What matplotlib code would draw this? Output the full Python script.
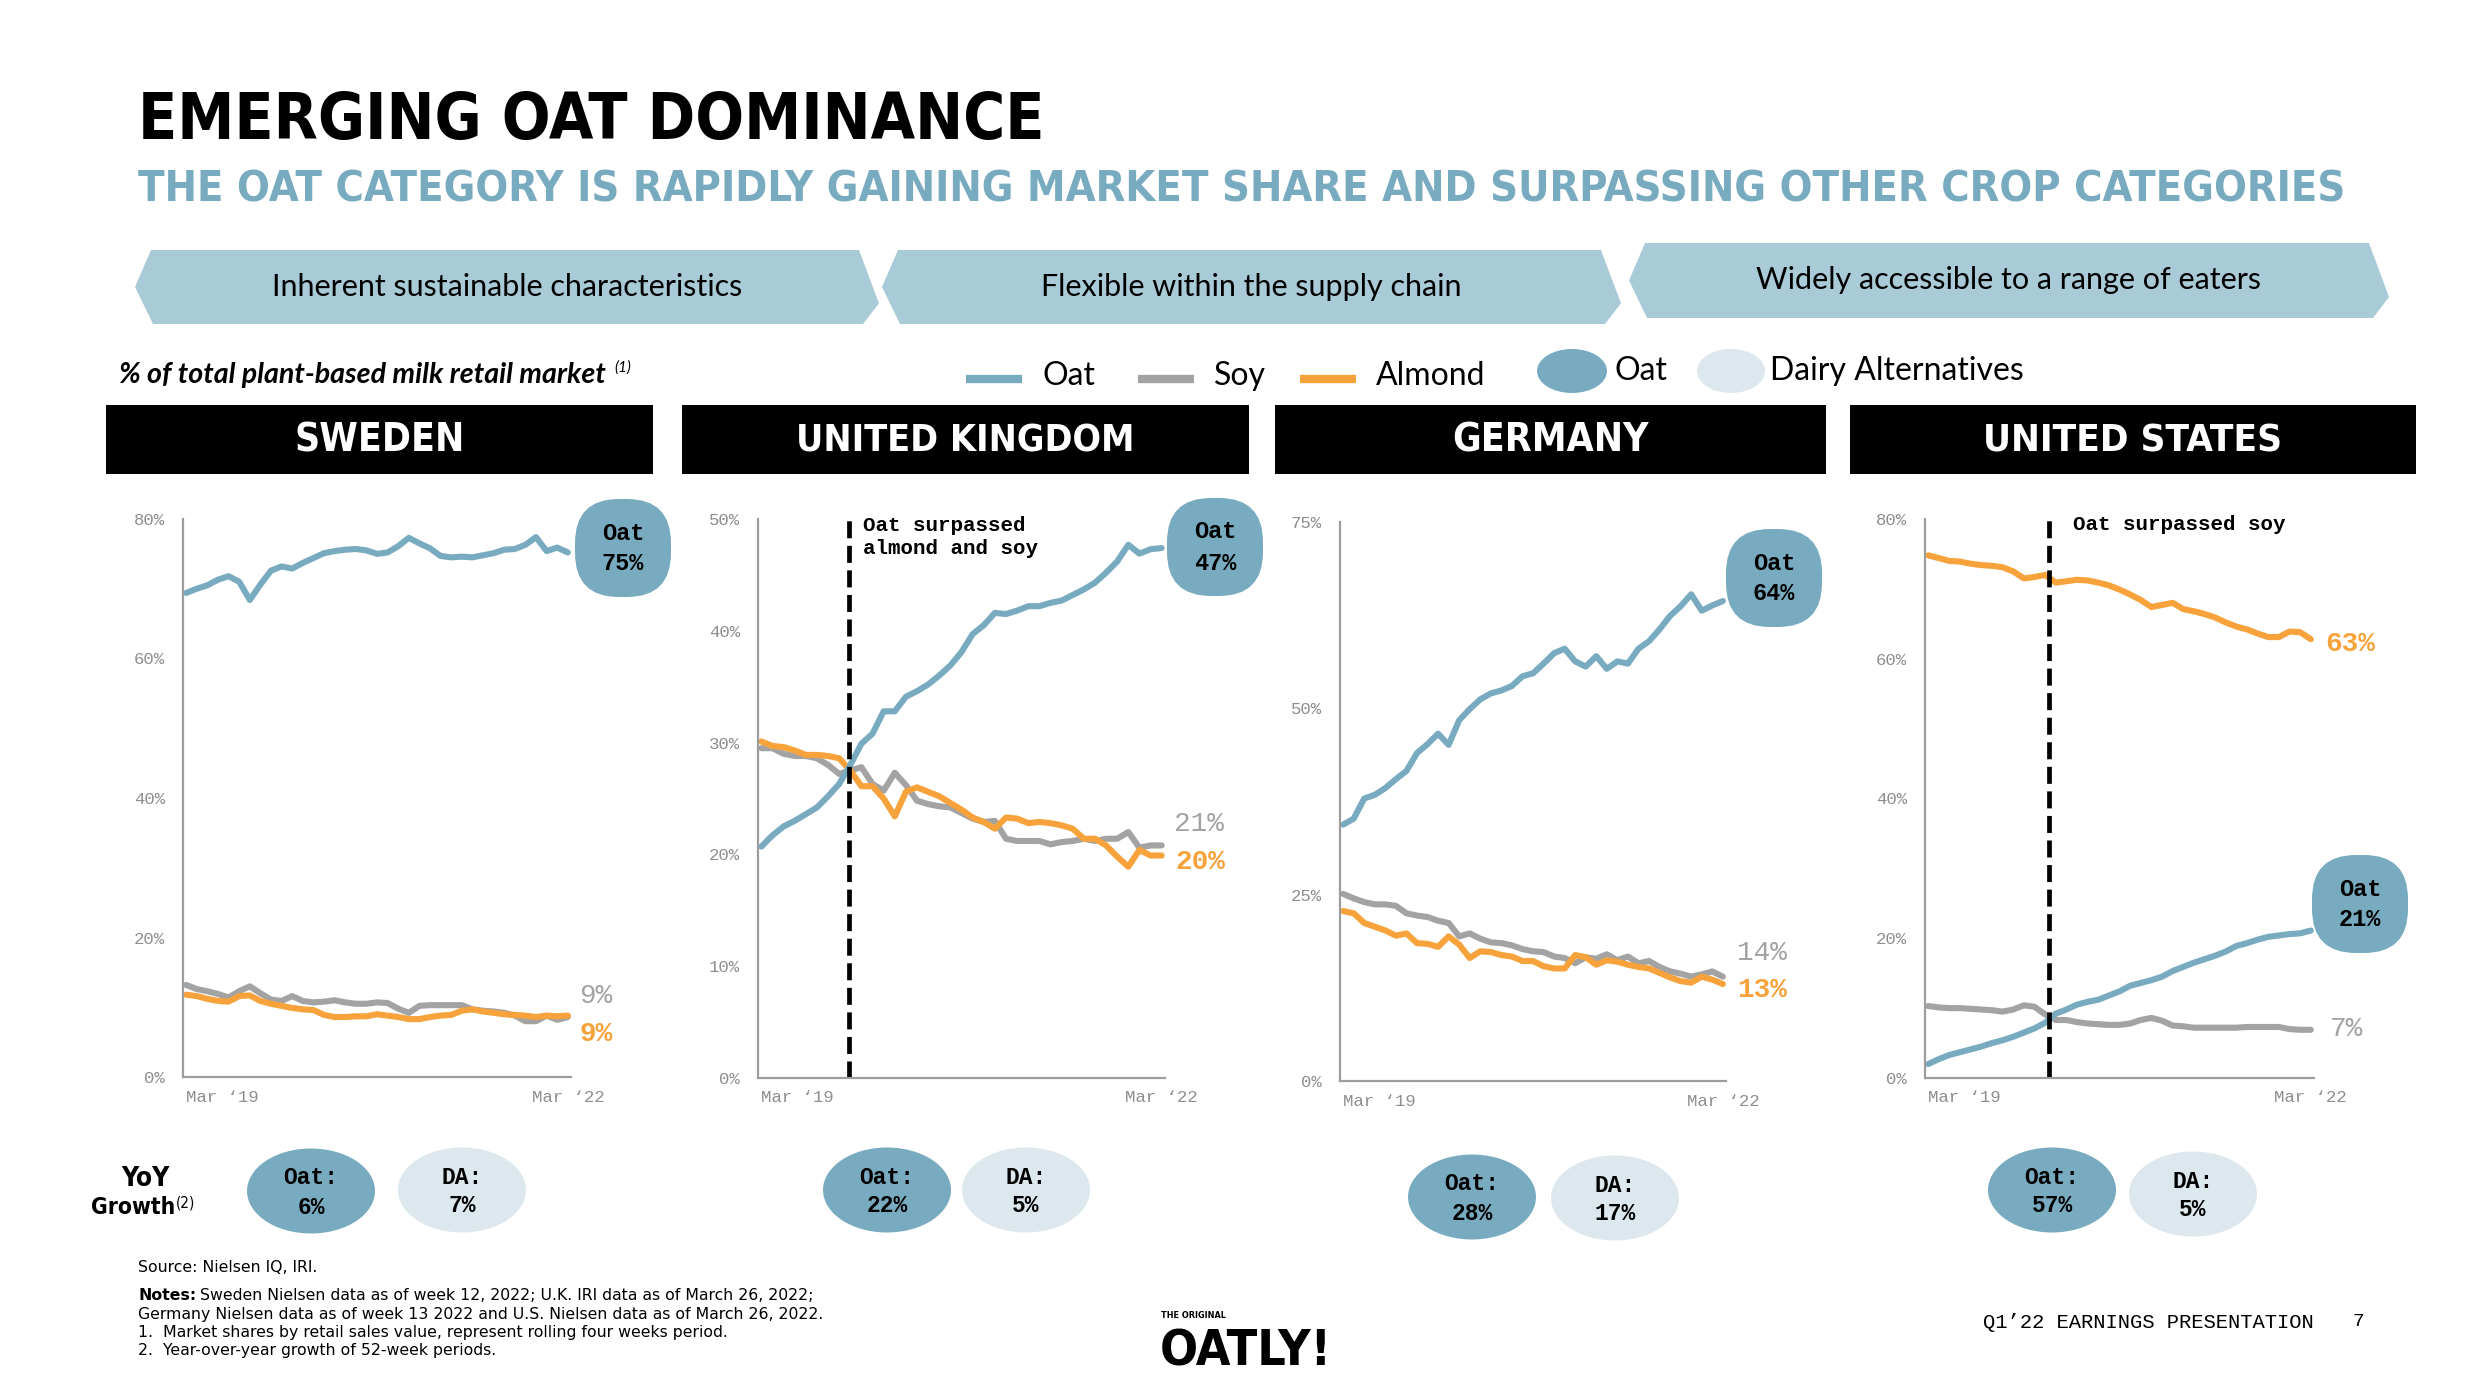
import matplotlib
matplotlib.use('Agg')
import matplotlib.pyplot as plt
from matplotlib import patches, font_manager
import numpy as np

W, H = 2492, 1400

# ---- data: share of plant-based milk retail market (%), four-week periods Mar '19 .. Mar '22
se_oat = [69.4, 70.0, 70.5, 71.3, 71.8, 71.0, 68.4, 70.6, 72.6, 73.2, 72.9, 73.7, 74.4,
          75.1, 75.4, 75.6, 75.7, 75.5, 75.0, 75.2, 76.1, 77.3, 76.5, 75.8, 74.7, 74.5,
          74.6, 74.5, 74.8, 75.1, 75.6, 75.7, 76.3, 77.4, 75.4, 75.9, 75.2]
se_soy = [13.2, 12.6, 12.3, 11.9, 11.4, 12.3, 13.0, 12.0, 11.1, 10.9, 11.6, 10.9, 10.7,
          10.8, 11.0, 10.7, 10.5, 10.5, 10.7, 10.6, 9.8, 9.2, 10.2, 10.3, 10.3, 10.3,
          10.3, 9.7, 9.5, 9.4, 9.2, 8.8, 8.0, 8.0, 8.8, 8.2, 8.6]
se_almond = [11.8, 11.6, 11.2, 10.9, 10.8, 11.6, 11.7, 10.9, 10.5, 10.2, 9.9, 9.7, 9.6,
             8.9, 8.6, 8.6, 8.7, 8.7, 9.0, 8.8, 8.6, 8.3, 8.3, 8.6, 8.8, 8.9,
             9.5, 9.7, 9.4, 9.2, 9.0, 8.9, 8.8, 8.6, 8.8, 8.7, 8.8]

uk_oat = [20.7, 21.7, 22.5, 23.0, 23.6, 24.2, 25.2, 26.3, 28.0, 29.9, 30.8, 32.8, 32.8,
          34.1, 34.6, 35.2, 36.0, 36.9, 38.1, 39.7, 40.5, 41.6, 41.5, 41.8, 42.2, 42.2,
          42.5, 42.7, 43.2, 43.7, 44.3, 45.2, 46.2, 47.7, 46.9, 47.3, 47.4]
uk_soy = [29.5, 29.5, 29.0, 28.8, 28.8, 28.6, 28.0, 27.2, 27.5, 27.8, 26.3, 25.7, 27.3,
          26.2, 24.8, 24.5, 24.3, 24.2, 23.7, 23.2, 22.9, 23.0, 21.4, 21.2, 21.2, 21.2,
          20.9, 21.1, 21.2, 21.4, 21.2, 21.4, 21.4, 22.0, 20.6, 20.8, 20.8]
uk_almond = [30.1, 29.7, 29.6, 29.3, 28.9, 28.9, 28.8, 28.6, 27.5, 26.1, 26.1, 25.0, 23.4,
             25.6, 26.0, 25.6, 25.2, 24.6, 24.0, 23.3, 22.9, 22.3, 23.3, 23.2, 22.8, 22.9,
             22.8, 22.6, 22.3, 21.4, 21.4, 20.8, 19.8, 18.9, 20.4, 19.9, 19.9]

de_oat = [34.4, 35.2, 37.9, 38.4, 39.3, 40.5, 41.6, 44.0, 45.2, 46.6, 45.1, 48.4, 49.9,
          51.2, 52.0, 52.4, 53.0, 54.3, 54.7, 56.0, 57.4, 58.0, 56.3, 55.6, 57.0, 55.3,
          56.3, 56.0, 58.0, 59.0, 60.6, 62.4, 63.7, 65.3, 63.1, 63.8, 64.4]
de_soy = [25.1, 24.5, 24.0, 23.7, 23.7, 23.5, 22.5, 22.2, 22.0, 21.5, 21.2, 19.4, 19.8,
          19.1, 18.6, 18.5, 18.2, 17.7, 17.4, 17.3, 16.7, 16.5, 15.8, 16.6, 16.4, 17.0,
          16.2, 16.7, 15.8, 16.1, 15.3, 14.7, 14.4, 14.0, 14.3, 14.7, 14.0]
de_almond = [22.8, 22.5, 21.2, 20.7, 20.2, 19.5, 19.8, 18.5, 18.4, 18.0, 19.4, 18.3, 16.5,
             17.4, 17.3, 16.9, 16.7, 16.1, 16.1, 15.4, 15.1, 15.1, 16.9, 16.6, 15.6, 16.2,
             16.0, 15.6, 15.3, 15.1, 14.5, 13.9, 13.4, 13.2, 14.0, 13.6, 13.0]

us_oat = [2.0, 2.7, 3.3, 3.7, 4.1, 4.5, 5.0, 5.4, 5.9, 6.5, 7.1, 7.9, 9.2,
          9.8, 10.5, 10.9, 11.2, 11.8, 12.4, 13.2, 13.6, 14.0, 14.5, 15.3, 15.9, 16.5,
          17.0, 17.5, 18.1, 18.9, 19.3, 19.8, 20.2, 20.4, 20.6, 20.7, 21.1]
us_soy = [10.3, 10.1, 10.0, 10.0, 9.9, 9.8, 9.7, 9.5, 9.8, 10.4, 10.2, 9.1, 8.3,
          8.3, 8.0, 7.8, 7.7, 7.6, 7.6, 7.8, 8.3, 8.6, 8.2, 7.5, 7.4, 7.2,
          7.2, 7.2, 7.2, 7.2, 7.3, 7.3, 7.3, 7.3, 7.0, 6.9, 6.9]
us_almond = [74.8, 74.4, 74.0, 73.9, 73.6, 73.4, 73.3, 73.1, 72.5, 71.5, 71.7, 72.0, 70.9,
             71.1, 71.3, 71.2, 70.9, 70.5, 69.9, 69.2, 68.4, 67.4, 67.7, 68.0, 67.1, 66.8,
             66.4, 65.9, 65.2, 64.6, 64.2, 63.6, 63.1, 63.1, 63.9, 63.8, 62.8]

countries = ['SWEDEN', 'UNITED KINGDOM', 'GERMANY', 'UNITED STATES']
oat = [se_oat, uk_oat, de_oat, us_oat]
soy = [se_soy, uk_soy, de_soy, us_soy]
almond = [se_almond, uk_almond, de_almond, us_almond]
y_ticks = [[0, 20, 40, 60, 80], [0, 10, 20, 30, 40, 50], [0, 25, 50, 75], [0, 20, 40, 60, 80]]
oat_end = ['75%', '47%', '64%', '21%']
soy_end = ['9%', '21%', '14%', '7%']
almond_end = ['9%', '20%', '13%', '63%']
yoy_oat = ['6%', '22%', '28%', '57%']
yoy_da = ['7%', '5%', '17%', '5%']
crossover = [None, 7.9, None, 11.4]
crossover_text = [None, 'Oat surpassed\nalmond and soy', None, 'Oat surpassed soy']
banners = ['Inherent sustainable characteristics', 'Flexible within the supply chain',
           'Widely accessible to a range of eaters']

# ---- styling
OAT = '#78abc0'
SOY = '#a3a3a3'
ALMOND = '#f7a23a'
DA = '#dce8ee'
BANNER = '#a9cbd8'
TICK = '#8e8e8e'

# pick the narrowest bold-capable face that is installed for the poster-style headings
entries = font_manager.fontManager.ttflist
narrow = dict(family='DejaVu Sans', stretch='normal')
for want in ['extra-condensed', 'condensed', 'semi-condensed']:
    hits = [f for f in entries if f.stretch == want and f.name in ('Noto Sans', 'DejaVu Sans', 'Roboto', 'Open Sans')]
    if hits:
        narrow = dict(family=hits[0].name, stretch=want)
        break
MONO = ['Liberation Mono', 'DejaVu Sans Mono']
SANS = ['Lato', 'DejaVu Sans']

fig = plt.figure(figsize=(W / 100, H / 100), dpi=100)
renderer = fig.canvas.get_renderer()
bg = fig.add_axes([0, 0, 1, 1])
bg.set_xlim(0, W)
bg.set_ylim(H, 0)
bg.axis('off')


def fit(t, width, max_size=None):
    # scale a text so that it spans the given width in pixels
    w = t.get_window_extent(renderer).width
    size = t.get_fontsize() * width / w
    if max_size is not None:
        size = min(size, max_size)
    t.set_fontsize(size)
    return t


def right_edge(t):
    return t.get_window_extent(renderer).x1


# title block
fit(bg.text(138, 121, 'EMERGING OAT DOMINANCE', weight='heavy', fontsize=60,
            va='center', ha='left', color='black', **narrow), 908, 90)
fit(bg.text(138, 190, 'THE OAT CATEGORY IS RAPIDLY GAINING MARKET SHARE AND SURPASSING OTHER CROP CATEGORIES',
            weight='heavy', fontsize=40, va='center', ha='left', color=OAT, **narrow), 2210, 60)

# banner arrows
banner_px = [(135, 879, 250, 324), (882, 1621, 250, 324), (1629, 2389, 243, 318)]
for (x0, x1, top, bot), label in zip(banner_px, banners):
    mid = (top + bot) / 2
    pts = [(x0 + 16, top), (x1 - 20, top), (x1, top + 0.72 * (bot - top)), (x1 - 16, bot),
           (x0 + 18, bot), (x0, mid)]
    bg.add_patch(patches.Polygon(pts, closed=True, color=BANNER, lw=0))
    bg.text((x0 + x1) / 2, mid, label, family=SANS, fontsize=22, ha='center', va='center')

# legend row
lead = fit(bg.text(119, 375, '% of total plant-based milk retail market', family=SANS, style='italic',
                   weight='bold', fontsize=16, ha='left', va='center'), 488, 22)
bg.text(lead.get_window_extent(renderer).x1 + 8, 368, '(1)', family=SANS, style='italic',
        fontsize=11, ha='left', va='center')
for x, c, lab in [(966, OAT, 'Oat'), (1138, SOY, 'Soy'), (1300, ALMOND, 'Almond')]:
    bg.plot([x, x + 56], [379, 379], color=c, lw=6, solid_capstyle='butt')
    bg.text(x + 76, 376, lab, family=SANS, fontsize=23, ha='left', va='center')
bg.add_patch(patches.Ellipse((1572, 371), 70, 44, color=OAT, lw=0))
bg.text(1614, 371, 'Oat', family=SANS, fontsize=23, ha='left', va='center')
bg.add_patch(patches.Ellipse((1731, 371), 68, 44, color=DA, lw=0))
bg.text(1770, 371, 'Dairy Alternatives', family=SANS, fontsize=23, ha='left', va='center')

# country headers
header_px = [(106, 653), (682, 1249), (1275, 1826), (1850, 2416)]
header_w = [170, 338, 196, 300]
for (x0, x1), name, hw in zip(header_px, countries, header_w):
    bg.add_patch(patches.Rectangle((x0, 405), x1 - x0, 69, color='black', lw=0))
    fit(bg.text((x0 + x1) / 2, 441, name, weight='heavy', fontsize=34,
                color='white', ha='center', va='center', **narrow), hw, 40)

# line charts
axes_px = [(183, 519, 571, 1077), (758, 519, 1165, 1078), (1340, 522, 1726, 1081), (1925, 519, 2314, 1078)]
bubble_px = [(623, 548), (1215, 547), (1774, 578), (2360, 904)]
soy_lab_px = [(596, 996), (1199, 824), (1762, 953), (2346, 1029)]
alm_lab_px = [(596, 1034), (1200, 862), (1762, 990), (2350, 644)]
note_px = [None, (863, 537), None, (2073, 524)]

for i in range(4):
    x0, y0, x1, y1 = axes_px[i]
    ax = fig.add_axes([x0 / W, 1 - y1 / H, (x1 - x0) / W, (y1 - y0) / H])
    ax.patch.set_alpha(0)
    periods = np.arange(len(oat[i]))
    for series, c in [(soy[i], SOY), (almond[i], ALMOND), (oat[i], OAT)]:
        ax.plot(periods, series, color=c, lw=4.4, solid_joinstyle='round', solid_capstyle='round',
                clip_on=False)
    ax.set_xlim(-0.3, len(periods) - 1 + 0.3)
    ax.set_ylim(0, y_ticks[i][-1])
    for s in ['top', 'right']:
        ax.spines[s].set_visible(False)
    for s in ['left', 'bottom']:
        ax.spines[s].set_color('#9c9c9c')
        ax.spines[s].set_linewidth(1.6)
    ax.set_yticks(y_ticks[i], [f'{t}%' for t in y_ticks[i]])
    ax.set_xticks([0, len(periods) - 1], ['Mar \u201819', 'Mar \u201822'])
    ax.tick_params(length=0, labelcolor=TICK, labelsize=12.5)
    ax.tick_params(axis='y', pad=13)
    ax.tick_params(axis='x', pad=9)
    for lab in ax.get_xticklabels() + ax.get_yticklabels():
        lab.set_family(MONO)
    ax.get_xticklabels()[0].set_ha('left')
    if crossover[i] is not None:
        ax.axvline(crossover[i], color='black', lw=3.4, dashes=(3.6, 1.6))
        nx, ny = note_px[i]
        bg.text(nx, ny, crossover_text[i], family=MONO, weight='bold', fontsize=15,
                ha='left', va='center', linespacing=1.25)

    # oat bubble
    cx, cy = bubble_px[i]
    bg.add_patch(patches.FancyBboxPatch((cx - 48, cy - 49), 96, 98,
                                        boxstyle='round,pad=0,rounding_size=44',
                                        color=OAT, lw=0))
    bg.text(cx, cy - 15, 'Oat', family=MONO, weight='bold', fontsize=17, ha='center', va='center')
    bg.text(cx, cy + 16, oat_end[i], family=MONO, weight='bold', fontsize=17, ha='center', va='center')
    sx, sy = soy_lab_px[i]
    bg.text(sx, sy, soy_end[i], family=MONO, fontsize=20, color=SOY, ha='center', va='center')
    axx, axy = alm_lab_px[i]
    bg.text(axx, axy, almond_end[i], family=MONO, weight='bold', fontsize=20, color=ALMOND,
            ha='center', va='center')

# YoY growth bubbles
bg.text(145, 1179, 'YoY', weight='bold', fontsize=19, ha='center', va='center', **narrow)
grow = fit(bg.text(91, 1208, 'Growth', weight='bold', fontsize=19, ha='left', va='center', **narrow), 84, 22)
bg.text(right_edge(grow) + 1, 1203, '(2)', fontsize=11, ha='left', va='center', **narrow)
oat_circ = [(311, 1191), (887, 1190), (1472, 1197), (2052, 1190)]
da_circ = [(462, 1190), (1026, 1190), (1615, 1198), (2193, 1194)]
for i in range(4):
    for (cx, cy), c, head, val in [(oat_circ[i], OAT, 'Oat:', yoy_oat[i]), (da_circ[i], DA, 'DA:', yoy_da[i])]:
        bg.add_patch(patches.Ellipse((cx, cy), 128, 85, color=c, lw=0))
        bg.text(cx, cy - 13, head, family=MONO, weight='bold', fontsize=16.5, ha='center', va='center')
        bg.text(cx, cy + 16, val, family=MONO, weight='bold', fontsize=16.5, ha='center', va='center')

# source & notes
NOTE = dict(family=['DejaVu Sans'], fontsize=11, ha='left', va='center')
ref = fit(bg.text(138, 1314, 'Germany Nielsen data as of week 13 2022 and U.S. Nielsen data as of March 26, 2022.',
                  **NOTE), 688, 12)
NOTE['fontsize'] = ref.get_fontsize()
bg.text(138, 1268, 'Source: Nielsen IQ, IRI.', **NOTE)
notes = bg.text(138, 1296, 'Notes:', weight='bold', **NOTE)
bg.text(right_edge(notes) + 4, 1296, 'Sweden Nielsen data as of week 12, 2022; U.K. IRI data as of March 26, 2022;',
        **NOTE)
bg.text(138, 1332, '1.  Market shares by retail sales value, represent rolling four weeks period.', **NOTE)
bg.text(138, 1350, '2.  Year-over-year growth of 52-week periods.', **NOTE)

# logo and footer
bg.text(1161, 1316, 'THE ORIGINAL', weight='heavy', fontsize=6.5, ha='left', va='center', **narrow)
fit(bg.text(1160, 1351, 'OATLY!', weight='heavy', fontsize=42, ha='left', va='center', **narrow), 172, 48)
fit(bg.text(1983, 1322, 'Q1\u201922 EARNINGS PRESENTATION', family=MONO, fontsize=13, ha='left', va='center'),
    329, 15)
bg.text(2352, 1322, '7', family=MONO, fontsize=14, ha='left', va='center')

fig.savefig('out.png', dpi=100, facecolor='white')
